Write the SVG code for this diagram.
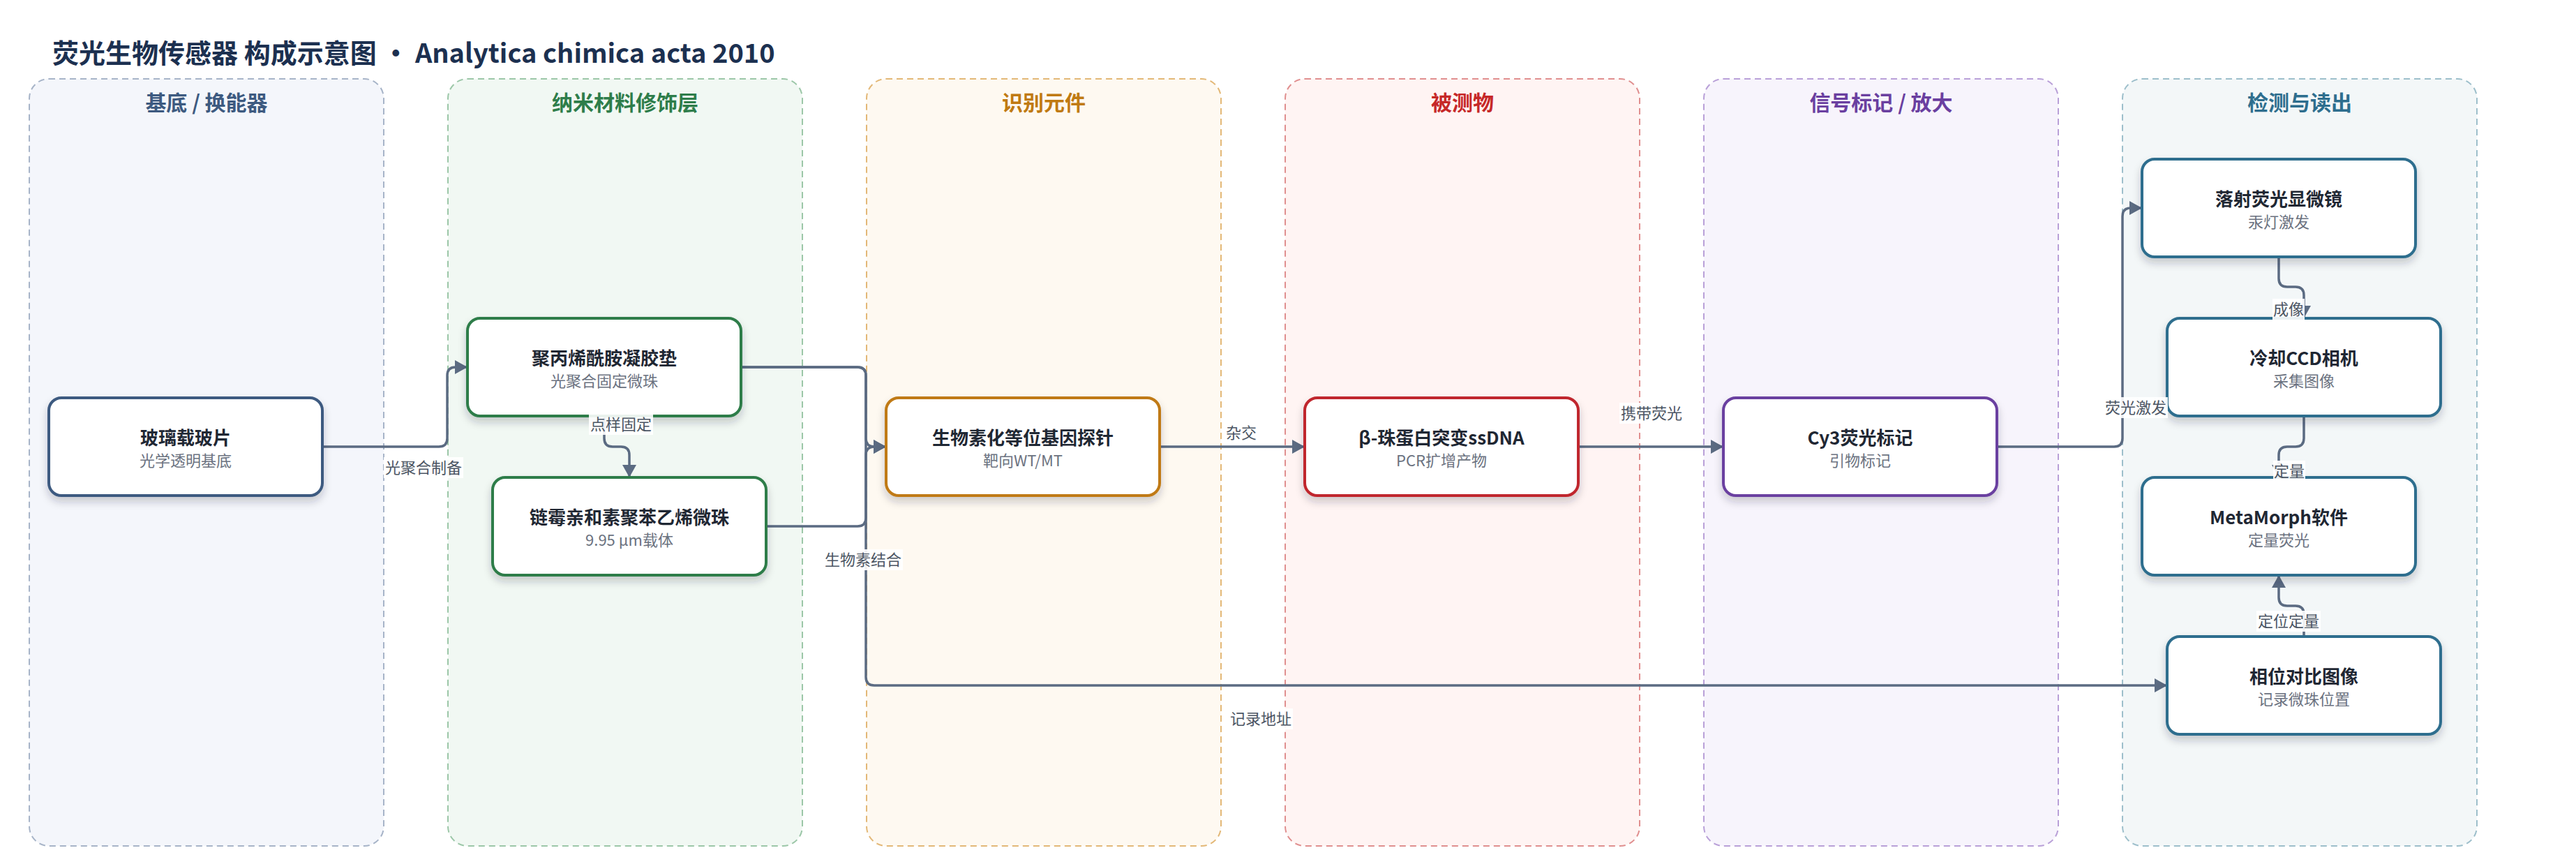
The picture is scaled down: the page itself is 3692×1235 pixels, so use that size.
<svg xmlns="http://www.w3.org/2000/svg" width="3692" height="1235" viewBox="0 0 3692 1235">
<defs>
<filter id="sh" x="-10%" y="-10%" width="120%" height="140%">
<feDropShadow dx="0" dy="7" stdDeviation="6" flood-color="#1f2a3a" flood-opacity="0.22"/>
</filter>
<marker id="arr" viewBox="0 0 18 20" refX="18" refY="10" markerWidth="18" markerHeight="20" markerUnits="userSpaceOnUse" orient="auto">
<path d="M0,0 L18,10 L0,20 Z" fill="#5b6b82"/>
</marker>
</defs>
<style>
text{font-family:"Noto Sans CJK SC","Noto Sans",sans-serif;}
.title{font-size:38px;font-weight:700;fill:#1c3050;}
.lane{stroke-width:2;stroke-dasharray:9 6;}
.lh{font-size:30px;font-weight:700;text-anchor:middle;}
.node{fill:#ffffff;stroke-width:4;filter:url(#sh);}
.nt{font-size:26px;font-weight:700;fill:#1f2733;text-anchor:middle;}
.ns{font-size:22px;fill:#6b7280;text-anchor:middle;}
.edge{fill:none;stroke:#5b6b82;stroke-width:3.5;marker-end:url(#arr);}
.lbg{fill:#ffffff;fill-opacity:0.9;}
.lt{font-size:22px;fill:#4b5563;text-anchor:middle;}
</style>
<rect width="3692" height="1235" fill="#ffffff"/>
<text class="title" x="75" y="90">荧光生物传感器 构成示意图 · Analytica chimica acta 2010</text>

<g id="lanes">
<g id="lane1"><rect class="lane" x="42" y="113" width="508" height="1099" rx="28" fill="#f4f6fb" stroke="#a7b4c8"/><text class="lh" x="296" y="158" fill="#3d5a80">基底 / 换能器</text></g>
<g id="lane2"><rect class="lane" x="642" y="113" width="508" height="1099" rx="28" fill="#f1f8f3" stroke="#9cc7a8"/><text class="lh" x="896" y="158" fill="#2e7d4a">纳米材料修饰层</text></g>
<g id="lane3"><rect class="lane" x="1242" y="113" width="508" height="1099" rx="28" fill="#fef9f1" stroke="#e3b877"/><text class="lh" x="1496" y="158" fill="#c07a12">识别元件</text></g>
<g id="lane4"><rect class="lane" x="1842" y="113" width="508" height="1099" rx="28" fill="#fff4f3" stroke="#e08f8f"/><text class="lh" x="2096" y="158" fill="#c62828">被测物</text></g>
<g id="lane5"><rect class="lane" x="2442" y="113" width="508" height="1099" rx="28" fill="#f7f4fc" stroke="#b9a0d8"/><text class="lh" x="2696" y="158" fill="#6a3fa0">信号标记 / 放大</text></g>
<g id="lane6"><rect class="lane" x="3042" y="113" width="508" height="1099" rx="28" fill="#f3f7f8" stroke="#9dbfcb"/><text class="lh" x="3296" y="158" fill="#2e6e8e">检测与读出</text></g>
</g>

<g id="connectors">
<path class="edge" d="M462,640 H629 Q641,640 641,628 V538 Q641,526 653,526 H670"/>
<path class="edge" d="M866,596 V628 Q866,640 878,640 H890 Q902,640 902,652 V684"/>
<path class="edge" d="M1062,526 H1229 Q1241,526 1241,538 V628 Q1241,640 1253,640 H1270"/>
<path class="edge" d="M1098,754 H1229 Q1241,754 1241,742 V652 Q1241,640 1253,640 H1270"/>
<path class="edge" d="M1062,526 H1229 Q1241,526 1241,538 V970 Q1241,982 1253,982 H3106"/>
<path class="edge" d="M1662,640 H1870"/>
<path class="edge" d="M2262,640 H2470"/>
<path class="edge" d="M2862,640 H3030 Q3042,640 3042,628 V310 Q3042,298 3054,298 H3070"/>
<path class="edge" d="M3266,368 V399 Q3266,411 3278,411 H3290 Q3302,411 3302,423 V456"/>
<path class="edge" d="M3302,596 V628 Q3302,640 3290,640 H3278 Q3266,640 3266,652 V684"/>
<path class="edge" d="M3302,912 V880 Q3302,868 3290,868 H3278 Q3266,868 3266,856 V824"/>
</g>

<g id="nodes">
<g id="n1"><rect class="node" x="70" y="570" width="392" height="140" rx="18" stroke="#3d5a80"/><text class="nt" x="266" y="637">玻璃载玻片</text><text class="ns" x="266" y="668">光学透明基底</text></g>
<g id="n2"><rect class="node" x="670" y="456" width="392" height="140" rx="18" stroke="#2e7d4a"/><text class="nt" x="866" y="523">聚丙烯酰胺凝胶垫</text><text class="ns" x="866" y="554">光聚合固定微珠</text></g>
<g id="n3"><rect class="node" x="706" y="684" width="392" height="140" rx="18" stroke="#2e7d4a"/><text class="nt" x="902" y="751">链霉亲和素聚苯乙烯微珠</text><text class="ns" x="902" y="782">9.95 μm载体</text></g>
<g id="n4"><rect class="node" x="1270" y="570" width="392" height="140" rx="18" stroke="#c07a12"/><text class="nt" x="1466" y="637">生物素化等位基因探针</text><text class="ns" x="1466" y="668">靶向WT/MT</text></g>
<g id="n5"><rect class="node" x="1870" y="570" width="392" height="140" rx="18" stroke="#c0282d"/><text class="nt" x="2066" y="637">β-珠蛋白突变ssDNA</text><text class="ns" x="2066" y="668">PCR扩增产物</text></g>
<g id="n6"><rect class="node" x="2470" y="570" width="392" height="140" rx="18" stroke="#6a3fa0"/><text class="nt" x="2666" y="637">Cy3荧光标记</text><text class="ns" x="2666" y="668">引物标记</text></g>
<g id="n7"><rect class="node" x="3070" y="228" width="392" height="140" rx="18" stroke="#2e6e8e"/><text class="nt" x="3266" y="295">落射荧光显微镜</text><text class="ns" x="3266" y="326">汞灯激发</text></g>
<g id="n8"><rect class="node" x="3106" y="456" width="392" height="140" rx="18" stroke="#2e6e8e"/><text class="nt" x="3302" y="523">冷却CCD相机</text><text class="ns" x="3302" y="554">采集图像</text></g>
<g id="n9"><rect class="node" x="3070" y="684" width="392" height="140" rx="18" stroke="#2e6e8e"/><text class="nt" x="3266" y="751">MetaMorph软件</text><text class="ns" x="3266" y="782">定量荧光</text></g>
<g id="n10"><rect class="node" x="3106" y="912" width="392" height="140" rx="18" stroke="#2e6e8e"/><text class="nt" x="3302" y="979">相位对比图像</text><text class="ns" x="3302" y="1010">记录微珠位置</text></g>
</g>

<g id="edge-labels">
<rect class="lbg" x="550" y="655" width="114" height="30"/><text class="lt" x="607" y="678">光聚合制备</text>
<rect class="lbg" x="844" y="593" width="92" height="30"/><text class="lt" x="890" y="616">点样固定</text>
<rect class="lbg" x="1180" y="787" width="114" height="30"/><text class="lt" x="1237" y="810">生物素结合</text>
<rect class="lbg" x="1756" y="605" width="46" height="30"/><text class="lt" x="1779" y="628">杂交</text>
<rect class="lbg" x="2321" y="577" width="92" height="30"/><text class="lt" x="2367" y="600">携带荧光</text>
<rect class="lbg" x="1761" y="1015" width="92" height="30"/><text class="lt" x="1807" y="1038">记录地址</text>
<rect class="lbg" x="3015" y="569" width="92" height="30"/><text class="lt" x="3061" y="592">荧光激发</text>
<rect class="lbg" x="3257" y="428" width="46" height="30"/><text class="lt" x="3280" y="451">成像</text>
<rect class="lbg" x="3258" y="660" width="46" height="30"/><text class="lt" x="3281" y="683">定量</text>
<rect class="lbg" x="3234" y="875" width="92" height="30"/><text class="lt" x="3280" y="898">定位定量</text>
</g>
</svg>
